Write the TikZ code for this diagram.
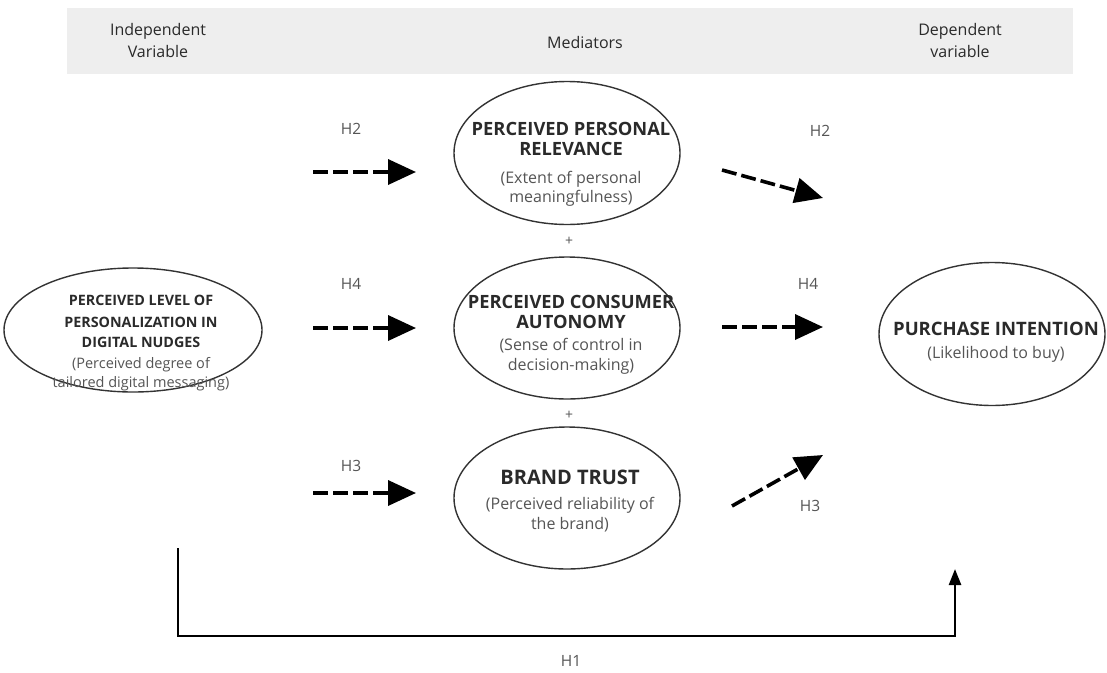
\documentclass[tikz,border=0pt]{standalone}
\usepackage{fontspec}
\setmainfont{Open Sans}
\usetikzlibrary{arrows.meta,shapes.geometric}
\definecolor{band}{HTML}{EEEEEE}
\definecolor{txt}{HTML}{2A2A2A}
\definecolor{sub}{HTML}{555555}
\tikzset{
  var/.style={draw=black!80,line width=1.4pt,ellipse,inner sep=0pt,fill=white},
  hyp/.style={line width=3.6pt,dash pattern=on 15pt off 5pt,-{Triangle[length=28pt,width=25pt]},black},
  hlab/.style={font=\fontsize{15.5}{18}\selectfont,text=sub},
  head/.style={font=\fontsize{16}{22}\selectfont,text=txt,align=center},
  plus/.style={font=\fontsize{14}{15}\selectfont,text=sub},
  tl/.style={anchor=base,inner sep=0pt,text=txt,font=\fontsize{18.3}{20}\selectfont\bfseries},
  sl/.style={anchor=base,inner sep=0pt,text=sub,font=\fontsize{16}{19}\selectfont},
  ltl/.style={anchor=base,inner sep=0pt,text=txt,font=\fontsize{14.3}{20}\selectfont\bfseries},
  lsl/.style={anchor=base,inner sep=0pt,text=sub,font=\fontsize{14.5}{19}\selectfont},
}
\begin{document}
\begin{tikzpicture}[x=1pt,y=-1pt]
\useasboundingbox (0,0) rectangle (1107,672);
\fill[band] (67,8) rectangle (1073,74);
\node[head] (hiv) at (158,40) {Independent\\Variable};
\node[head] (hmed) at (585,42) {Mediators};
\node[head] (hdv) at (960,40) {Dependent\\variable};

% independent variable
\node[var,minimum width=258pt,minimum height=124pt] (iv) at (133,330) {};
\node[ltl] (iv1) at (141,305) {PERCEIVED LEVEL OF};
\node[ltl] (iv2) at (141,327) {PERSONALIZATION IN};
\node[ltl] (iv3) at (141,347) {DIGITAL NUDGES};
\node[lsl] (iv4) at (141,368) {(Perceived degree of};
\node[lsl] (iv5) at (141,387) {tailored digital messaging)};

% mediator 1
\node[var,minimum width=226pt,minimum height=143pt] (m1) at (567,153) {};
\node[tl] (m1a) at (571,135) {PERCEIVED PERSONAL};
\node[tl] (m1b) at (571,155) {RELEVANCE};
\node[sl] (m1c) at (571,183) {(Extent of personal};
\node[sl] (m1d) at (571,202) {meaningfulness)};
\node[plus] (p1) at (569,241) {+};

% mediator 2
\node[var,minimum width=226pt,minimum height=142pt] (m2) at (567,328) {};
\node[tl] (m2a) at (571,308) {PERCEIVED CONSUMER};
\node[tl] (m2b) at (571,328) {AUTONOMY};
\node[sl] (m2c) at (571,350) {(Sense of control in};
\node[sl] (m2d) at (571,370) {decision-making)};
\node[plus] (p2) at (569,415) {+};

% mediator 3
\node[var,minimum width=226pt,minimum height=142pt] (m3) at (567,498) {};
\node[tl,font=\fontsize{20}{24}\selectfont\bfseries] (m3a) at (570,484) {BRAND TRUST};
\node[sl] (m3b) at (570,509) {(Perceived reliability of};
\node[sl] (m3c) at (570,529) {the brand)};

% dependent variable
\node[var,minimum width=226pt,minimum height=143pt] (dv) at (992,334) {};
\node[tl,font=\fontsize{18.5}{22}\selectfont\bfseries] (dva) at (996,335) {PURCHASE INTENTION};
\node[sl] (dvb) at (996,358) {(Likelihood to buy)};

\coordinate (a1s) at (313,172); \coordinate (a1e) at (416,172);
\coordinate (a2s) at (313,328); \coordinate (a2e) at (416,328);
\coordinate (a3s) at (313,493); \coordinate (a3e) at (416,493);
\coordinate (b1s) at (722,170); \coordinate (b1e) at (823,198);
\coordinate (b2s) at (722,327); \coordinate (b2e) at (823,327);
\coordinate (b3s) at (732,506); \coordinate (b3e) at (823,455);
\draw[hyp] (a1s) -- (a1e);
\draw[hyp] (a2s) -- (a2e);
\draw[hyp] (a3s) -- (a3e);
\draw[hyp] (b1s) -- (b1e);
\draw[hyp] (b2s) -- (b2e);
\draw[hyp] (b3s) -- (b3e);
\node[hlab] (l1) at (351,129) {H2};
\node[hlab] (l2) at (351,284) {H4};
\node[hlab] (l3) at (351,466) {H3};
\node[hlab] (r1) at (820,131) {H2};
\node[hlab] (r2) at (808,284) {H4};
\node[hlab] (r3) at (810,506) {H3};

\coordinate (h1s) at (178,548);
\coordinate (h1e) at (955,569);
\draw[line width=2.4pt,-{Triangle[length=16pt,width=12pt]}] (h1s) |- (h1e |- 0,636) -- (h1e);
\node[hlab] (h1) at (571,661) {H1};
\end{tikzpicture}
\end{document}
